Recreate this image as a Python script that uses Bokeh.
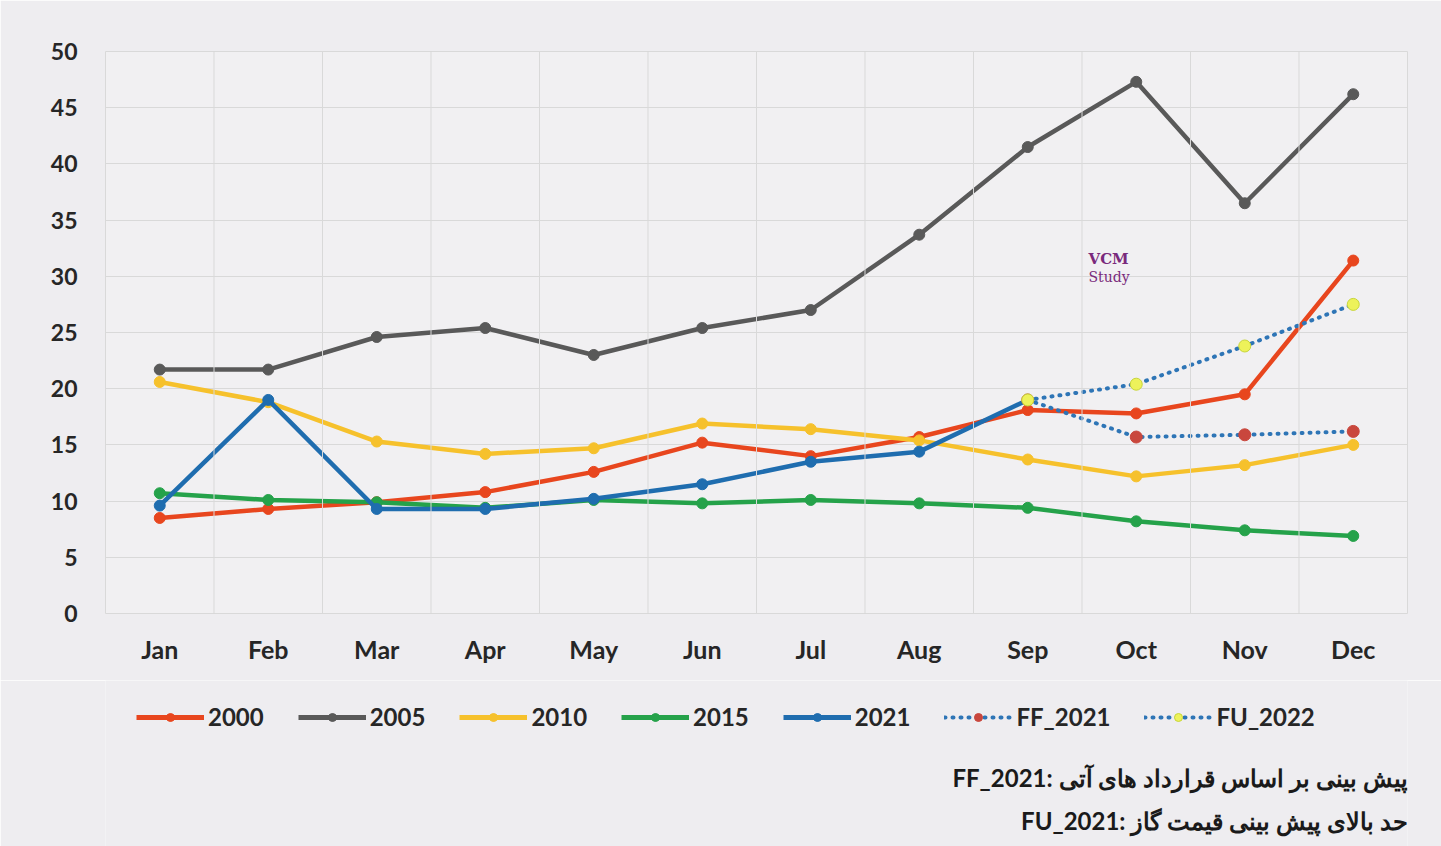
from bokeh.plotting import figure
from bokeh.layouts import column
from bokeh.models import (FactorRange, Range1d, SingleIntervalTicker, Span, Legend,
                          LegendItem, Label)
from bokeh.embed import file_html
from bokeh.resources import INLINE

months = ["Jan", "Feb", "Mar", "Apr", "May", "Jun", "Jul", "Aug", "Sep", "Oct", "Nov", "Dec"]

y2000 = [8.5, 9.3, 9.9, 10.8, 12.6, 15.2, 14.0, 15.7, 18.1, 17.8, 19.5, 31.4]
y2005 = [21.7, 21.7, 24.6, 25.4, 23.0, 25.4, 27.0, 33.7, 41.5, 47.3, 36.5, 46.2]
y2010 = [20.6, 18.8, 15.3, 14.2, 14.7, 16.9, 16.4, 15.4, 13.7, 12.2, 13.2, 15.0]
y2015 = [10.7, 10.1, 9.9, 9.4, 10.1, 9.8, 10.1, 9.8, 9.4, 8.2, 7.4, 6.9]
y2021 = [9.6, 19.0, 9.3, 9.3, 10.2, 11.5, 13.5, 14.4, 19.0]
ff_months = ["Sep", "Oct", "Nov", "Dec"]
ff2021 = [19.0, 15.7, 15.9, 16.2]
fu2022 = [19.0, 20.4, 23.8, 27.5]

notes = ["FF_2021: پیش بینی بر اساس قرارداد های آتی",
         "FU_2021: حد بالای پیش بینی قیمت گاز"]

FONT = "Lato"
TXT = "#262626"
BG = "#EEEDF0"
DOT = "#2E75B6"
NAN = float("nan")

solid = [
    ("2000", months, y2000, "#E8461E"),
    ("2005", months, y2005, "#595959"),
    ("2010", months, y2010, "#F6C12C"),
    ("2015", months, y2015, "#25A24A"),
    ("2021", months[:len(y2021)], y2021, "#1F6DAF"),
]
dotted = [
    ("FF_2021", ff_months, ff2021, "#C9473D", "#C9473D"),
    ("FU_2022", ff_months, fu2022, "#EDF25A", "#C8D63A"),
]

# ---------------- main chart ----------------
p = figure(width=1441, height=680, x_range=FactorRange(factors=months, range_padding=0),
           y_range=Range1d(0, 50), output_backend="svg", toolbar_location=None,
           min_border_left=105, min_border_right=34, min_border_top=51, min_border_bottom=67)
p.border_fill_color = BG
p.background_fill_color = "#F1F0F2"
p.outline_line_color = "#D9D9D9"

p.yaxis.ticker = SingleIntervalTicker(interval=5)
p.ygrid.grid_line_color = "#D9D9D9"
p.xgrid.grid_line_color = None
for loc in range(1, 12):
    p.add_layout(Span(location=loc, dimension="height", line_color="#D9D9D9", line_width=1))

for ax in (p.xaxis[0], p.yaxis[0]):
    ax.axis_line_color = None
    ax.major_tick_line_color = None
    ax.minor_tick_line_color = None
    ax.major_label_text_font = FONT
    ax.major_label_text_font_style = "bold"
    ax.major_label_text_color = TXT
p.yaxis.major_label_text_font_size = "23px"
p.xaxis.major_label_text_font_size = "25px"
p.yaxis.major_label_standoff = 22
p.xaxis.major_label_standoff = 14

for name, xs, ys, col in solid:
    p.line(xs, ys, line_color=col, line_width=4.5)
    p.scatter(xs, ys, size=11, fill_color=col, line_color=col)
for name, xs, ys, fcol, lcol in dotted:
    p.line(xs, ys, line_color=DOT, line_width=4, line_dash="1 7", line_cap="round")
    p.scatter(xs, ys, size=12, fill_color=fcol, line_color=lcol)

p.add_layout(Label(x=983, y=355, x_units="screen", y_units="screen", text="VCM",
                   text_align="left", text_baseline="middle", text_font="DejaVu Serif",
                   text_font_style="bold", text_font_size="15px", text_color="#7A2A7C"))
p.add_layout(Label(x=983, y=337, x_units="screen", y_units="screen", text="Study",
                   text_align="left", text_baseline="middle", text_font="DejaVu Serif",
                   text_font_size="14px", text_color="#7A2A7C"))

# ---------------- legend + notes strip ----------------
p2 = figure(width=1441, height=166, x_range=Range1d(0, 1), y_range=Range1d(0, 1),
            output_backend="svg", toolbar_location=None,
            min_border=0, min_border_left=0, min_border_right=0, min_border_top=0, min_border_bottom=0)
p2.axis.visible = False
p2.grid.visible = False
p2.outline_line_color = None
p2.border_fill_color = BG
p2.background_fill_color = BG

# legend-only proxies (no visible data)
items = []
for name, xs, ys, col in solid:
    l = p2.line([NAN], [NAN], line_color=col, line_width=5)
    s = p2.scatter([NAN], [NAN], size=10, fill_color=col, line_color=col)
    items.append(LegendItem(label=name, renderers=[l, s]))
for name, xs, ys, fcol, lcol in dotted:
    l = p2.line([NAN], [NAN], line_color=DOT, line_width=4, line_dash="1 7", line_cap="round")
    s = p2.scatter([NAN], [NAN], size=12, fill_color=fcol, line_color=lcol)
    items.append(LegendItem(label=name, renderers=[l, s]))

legend = Legend(items=items, orientation="horizontal", location=(31, 115),
                glyph_width=68, glyph_height=20, label_standoff=4, spacing=34,
                padding=4, margin=0, border_line_color=None, background_fill_alpha=0,
                label_text_font=FONT, label_text_font_style="bold",
                label_text_font_size="24px", label_text_color=TXT)
p2.add_layout(legend, "center")

for txt, vy in zip(notes, [69, 26]):
    p2.add_layout(Label(x=1302, y=vy, x_units="screen", y_units="screen", text=txt,
                        text_align="right", text_baseline="middle", text_font=FONT,
                        text_font_style="bold", text_font_size="24px", text_color="#1A1A1A"))

open("out.html", "w").write(file_html(column(p, p2, spacing=0), INLINE))
